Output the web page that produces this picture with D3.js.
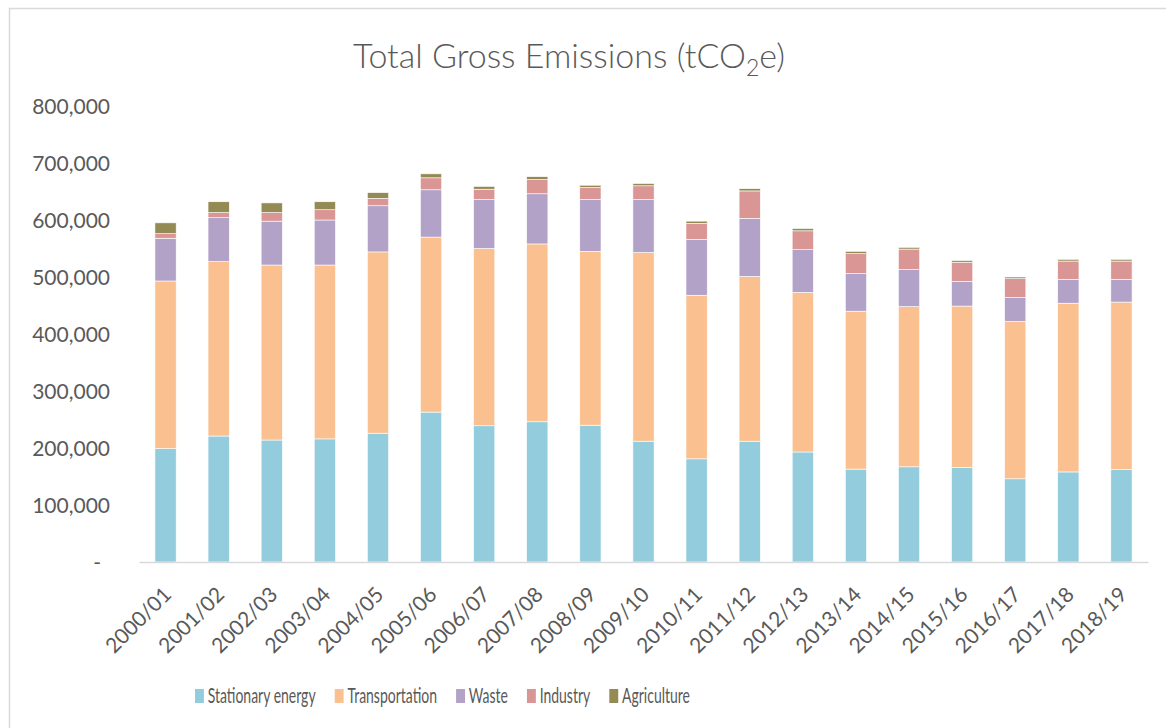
<!DOCTYPE html>
<html>
<head>
<meta charset="utf-8">
<script src="https://cdn.jsdelivr.net/npm/d3@7"></script>
<style>
  body { margin: 0; background: #fff; }
  text { font-family: Lato, "Open Sans", sans-serif; fill: #595959; }
</style>
</head>
<body>
<script>
// financial years on the x axis
var years = ["2000/01", "2001/02", "2002/03", "2003/04", "2004/05", "2005/06", "2006/07",
  "2007/08", "2008/09", "2009/10", "2010/11", "2011/12", "2012/13", "2013/14",
  "2014/15", "2015/16", "2016/17", "2017/18", "2018/19"];

// emissions by sector, tCO2e
var stationary = [199000, 221000, 214000, 216000, 226000, 263000, 239000, 246000, 240000, 212000,
  181000, 212000, 193000, 163000, 167000, 166000, 146000, 158000, 162000];
var transport = [294000, 306000, 307000, 305000, 318000, 307000, 311000, 312000, 305000, 331000,
  287000, 289000, 280000, 277000, 281000, 283000, 276000, 296000, 294000];
var waste = [75000, 77000, 77000, 79000, 81000, 83000, 86000, 88000, 91000, 93000,
  98000, 102000, 75000, 66000, 65000, 43000, 42000, 42000, 40000];
var industry = [8000, 9000, 15000, 18000, 13000, 21000, 18000, 25000, 21000, 24000,
  28000, 48000, 33000, 35000, 36000, 34000, 33000, 32000, 32000];
var agriculture = [19000, 19000, 17000, 14000, 10000, 7000, 5000, 5000, 4000, 4000,
  4000, 4000, 4000, 4000, 3000, 3000, 3000, 3000, 3000];

var sectors = ["Stationary energy", "Transportation", "Waste", "Industry", "Agriculture"];
var colours = ["#93CDDD", "#FAC090", "#B3A2C7", "#D99694", "#948A54"];
var yTicks = [0, 100000, 200000, 300000, 400000, 500000, 600000, 700000, 800000];

var width = 1166, height = 728;
var margin = { top: 106, right: 18, bottom: 166, left: 139 };

// table for d3.stack
var table = years.map(function(y, i) {
  return {
    year: y,
    "Stationary energy": stationary[i],
    "Transportation": transport[i],
    "Waste": waste[i],
    "Industry": industry[i],
    "Agriculture": agriculture[i]
  };
});

var svg = d3.select("body").append("svg")
  .attr("width", width)
  .attr("height", height);

// chart frame (runs off the right and bottom edge)
svg.append("rect")
  .attr("x", 9.5).attr("y", 8.5)
  .attr("width", 1200).attr("height", 760)
  .attr("fill", "#fff")
  .attr("stroke", "#d9d9d9")
  .attr("stroke-width", 1.5);

var x = d3.scaleBand()
  .domain(years)
  .range([margin.left, width - margin.right])
  .paddingInner(0.6)
  .paddingOuter(0.3);

var y = d3.scaleLinear()
  .domain([0, 800000])
  .range([height - margin.bottom, margin.top]);

var colour = d3.scaleOrdinal().domain(sectors).range(colours);

var series = d3.stack().keys(sectors)(table);

svg.append("g")
  .selectAll("g")
  .data(series)
  .join("g")
    .attr("fill", function(d) { return colour(d.key); })
  .selectAll("rect")
  .data(function(d) { return d; })
  .join("rect")
    .attr("x", function(d) { return x(d.data.year); })
    .attr("y", function(d) { return y(d[1]); })
    .attr("width", x.bandwidth())
    .attr("height", function(d) { return y(d[0]) - y(d[1]); })
    .attr("stroke", "#fff")
    .attr("stroke-width", 0.6);

// y axis: labels only
var yAxis = d3.axisLeft(y)
  .tickValues(yTicks)
  .tickSize(0)
  .tickPadding(0)
  .tickFormat(function(d) { return d === 0 ? "-" : d3.format(",")(d); });

var gy = svg.append("g")
  .attr("transform", "translate(110,0)")
  .call(yAxis);
gy.select(".domain").remove();
gy.selectAll("text")
  .style("font-size", "21px")
  .attr("fill", "#595959")
  .attr("dy", "0.36em")
  .attr("dx", function(d) { return d === 0 ? -9 : 0; });

// x axis: line + rotated labels
var xAxis = d3.axisBottom(x).tickSize(0).tickPadding(0);
var gx = svg.append("g")
  .attr("transform", "translate(0," + (height - margin.bottom) + ")")
  .call(xAxis);
gx.select(".domain")
  .attr("stroke", "#d9d9d9")
  .attr("stroke-width", 1.5);
gx.selectAll("text")
  .style("font-size", "21px")
  .attr("fill", "#595959")
  .attr("text-anchor", "end")
  .attr("y", 0)
  .attr("dy", 0)
  .attr("transform", "translate(7,34) rotate(-45)");

// title
var title = svg.append("text")
  .attr("x", 569)
  .attr("y", 68)
  .attr("text-anchor", "middle")
  .style("font-size", "34px")
  .style("font-weight", 300);
title.append("tspan").text("Total Gross Emissions (tCO");
title.append("tspan").attr("dy", 8).style("font-size", "23px").text("2");
title.append("tspan").attr("dy", -8).text("e)");

// legend, squeezed horizontally like the original
var legend = svg.append("g");
var items = legend.selectAll("g")
  .data(sectors)
  .join("g");
items.append("rect")
  .attr("width", 14).attr("height", 14)
  .attr("y", -14)
  .attr("fill", function(d) { return colour(d); });
items.append("text")
  .attr("x", 20)
  .attr("y", 0)
  .style("font-size", "22px")
  .text(function(d) { return d; });

var offset = 0;
items.each(function() {
  var g = d3.select(this);
  g.attr("transform", "translate(" + offset + ",0)");
  offset += 20 + g.select("text").node().getComputedTextLength() + 30;
});
var natural = offset - 30;
var sx = (690 - 195) / natural;
legend.attr("transform", "translate(195,703) scale(" + sx + ",1)");
</script>
</body>
</html>
